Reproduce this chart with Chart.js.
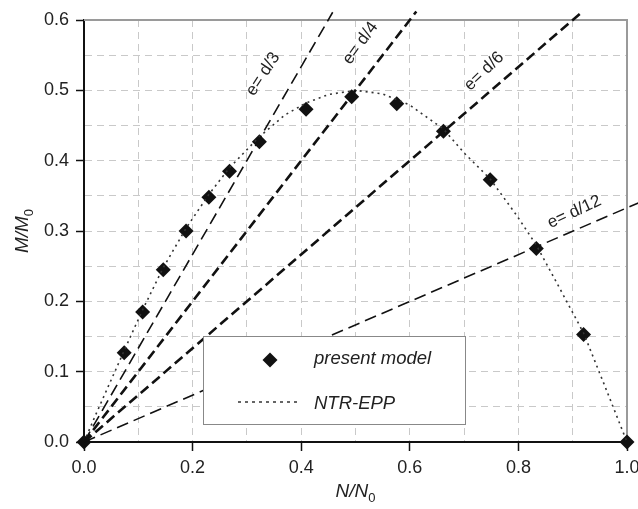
<!DOCTYPE html>
<html><head><meta charset="utf-8">
<script src="https://cdn.jsdelivr.net/npm/chart.js@4/dist/chart.umd.min.js"></script>
<style>html,body{margin:0;padding:0;background:#fff}#wrap{width:638px;height:509px}</style>
</head><body><div id="wrap"><canvas id="c" width="638" height="509"></canvas></div>
<script>
// present model points (N/N0, M/M0)
const modelN = [0, 0.074, 0.108, 0.146, 0.188, 0.230, 0.268, 0.323, 0.409, 0.493, 0.576, 0.662, 0.748, 0.833, 0.920, 1.0];
const modelM = [0, 0.127, 0.185, 0.245, 0.300, 0.348, 0.385, 0.427, 0.473, 0.491, 0.481, 0.442, 0.373, 0.275, 0.153, 0];
// NTR-EPP curve
const eppN = [0, 0.02, 0.074, 0.108, 0.146, 0.188, 0.230, 0.268, 0.323, 0.370, 0.409, 0.450, 0.500, 0.550, 0.600, 0.662, 0.700, 0.748, 0.797, 0.833, 0.875, 0.920, 0.960, 1.0];
const eppM = [0, 0.036, 0.130, 0.188, 0.248, 0.304, 0.352, 0.390, 0.434, 0.465, 0.482, 0.494, 0.500, 0.495, 0.479, 0.445, 0.411, 0.374, 0.322, 0.280, 0.220, 0.155, 0.078, 0];
// eccentricity load lines (from origin to end point)
const eccLabels = ['e= d/3', 'e= d/4', 'e= d/6', 'e= d/12'];
const eccEndN = [0.458, 0.612, 0.918, 1.03];
const eccEndM = [0.611, 0.612, 0.612, 0.343];
const eccLabelN = [0.330, 0.509, 0.737, 0.903];
const eccLabelM = [0.523, 0.567, 0.527, 0.327];
const eccLabelAngle = [-57, -54, -44, -25];
const xTickLabels = ['0.0', '0.2', '0.4', '0.6', '0.8', '1.0'];
const yTickLabels = ['0.0', '0.1', '0.2', '0.3', '0.4', '0.5', '0.6'];
const legendNames = ['present model', 'NTR-EPP'];

const FONT = "'Liberation Sans', Arial, Helvetica, sans-serif";
const thick = [false, true, true, false];

const datasets = [];
for (let i = 0; i < eccEndN.length; i++) {
  datasets.push({
    type: 'line',
    data: [{x: 0, y: 0}, {x: eccEndN[i], y: eccEndM[i]}],
    borderColor: '#111',
    borderWidth: thick[i] ? 2.6 : 1.6,
    borderDash: thick[i] ? [10, 5] : [12, 6],
    pointRadius: 0,
    clip: false,
    fill: false
  });
}
datasets.push({
  type: 'line',
  data: eppN.map((n, i) => ({x: n, y: eppM[i]})),
  borderColor: '#333',
  borderWidth: 1.6,
  borderDash: [2, 4],
  pointRadius: 0,
  clip: false,
  fill: false
});
datasets.push({
  type: 'scatter',
  data: modelN.map((n, i) => ({x: n, y: modelM[i]})),
  pointStyle: 'rectRot',
  pointRadius: 7.5,
  backgroundColor: '#111',
  borderColor: '#111',
  borderWidth: 0,
  clip: false
});

const isMult = (v, step) => Math.abs(v / step - Math.round(v / step)) < 1e-6;

const annot = {
  id: 'annot',
  beforeDatasetsDraw(chart) {
    const {ctx, chartArea: a} = chart;
    ctx.save();
    ctx.strokeStyle = '#9a9a9a';
    ctx.lineWidth = 2;
    ctx.beginPath();
    ctx.moveTo(a.left, a.top);
    ctx.lineTo(a.right, a.top);
    ctx.lineTo(a.right, a.bottom);
    ctx.stroke();
    ctx.restore();
  },
  afterDatasetsDraw(chart) {
    const {ctx} = chart;
    const xs = chart.scales.x, ys = chart.scales.y;
    ctx.save();
    ctx.fillStyle = '#222';
    ctx.font = '17px ' + FONT;
    ctx.textAlign = 'center';
    ctx.textBaseline = 'middle';
    for (let i = 0; i < eccLabels.length; i++) {
      const px = xs.getPixelForValue(eccLabelN[i]);
      const py = ys.getPixelForValue(eccLabelM[i]);
      ctx.save();
      ctx.translate(px, py);
      ctx.rotate(eccLabelAngle[i] * Math.PI / 180);
      ctx.fillText(eccLabels[i], 0, 0);
      ctx.restore();
    }
    // legend box
    const bx = 203.5, by = 336.5, bw = 262, bh = 88;
    ctx.fillStyle = '#fff';
    ctx.fillRect(bx, by, bw, bh);
    ctx.strokeStyle = '#888';
    ctx.lineWidth = 1;
    ctx.strokeRect(bx, by, bw, bh);
    // diamond
    ctx.fillStyle = '#111';
    ctx.beginPath();
    ctx.moveTo(270, 352.5); ctx.lineTo(277.5, 360); ctx.lineTo(270, 367.5); ctx.lineTo(262.5, 360);
    ctx.closePath();
    ctx.fill();
    // dotted sample
    ctx.strokeStyle = '#333';
    ctx.lineWidth = 1.5;
    ctx.setLineDash([3, 4]);
    ctx.beginPath();
    ctx.moveTo(238, 402); ctx.lineTo(300, 402);
    ctx.stroke();
    ctx.setLineDash([]);
    ctx.fillStyle = '#222';
    ctx.font = 'italic 18.5px ' + FONT;
    ctx.textAlign = 'left';
    ctx.textBaseline = 'alphabetic';
    ctx.fillText(legendNames[0], 314, 364);
    ctx.fillText(legendNames[1], 314, 409);
    ctx.restore();
  },
  afterDraw(chart) {
    const {ctx} = chart;
    ctx.save();
    ctx.fillStyle = '#222';
    ctx.textBaseline = 'alphabetic';
    ctx.textAlign = 'left';
    const main = 'italic 19px ' + FONT, sub = '13px ' + FONT;
    // x title N/N0
    ctx.font = main;
    let w1 = ctx.measureText('N/N').width;
    ctx.font = sub;
    let w2 = ctx.measureText('0').width;
    let sx = 355.5 - (w1 + w2) / 2;
    ctx.font = main;
    ctx.fillText('N/N', sx, 497);
    ctx.font = sub;
    ctx.fillText('0', sx + w1, 502);
    // y title M/M0
    ctx.translate(28, 231);
    ctx.rotate(-Math.PI / 2);
    ctx.font = main;
    w1 = ctx.measureText('M/M').width;
    ctx.font = sub;
    w2 = ctx.measureText('0').width;
    sx = -(w1 + w2) / 2;
    ctx.font = main;
    ctx.fillText('M/M', sx, 0);
    ctx.font = sub;
    ctx.fillText('0', sx + w1, 5);
    ctx.restore();
  }
};

new Chart(document.getElementById('c'), {
  type: 'scatter',
  data: {datasets},
  options: {
    responsive: false,
    animation: false,
    devicePixelRatio: 1,
    layout: {padding: {top: 20, right: 11, left: 0, bottom: 0}},
    plugins: {legend: {display: false}, tooltip: {enabled: false}},
    scales: {
      x: {
        type: 'linear', min: 0, max: 1,
        afterFit(s) { s.height = 67; s.paddingLeft = 0; s.paddingRight = 0; },
        ticks: {
          stepSize: 0.1, autoSkip: false, maxRotation: 0,
          padding: 6,
          color: '#222',
          font: {family: FONT, size: 18},
          callback: v => isMult(v, 0.2) ? xTickLabels[Math.round(v / 0.2)] : ''
        },
        grid: {
          color: c => (c.tick && (isMult(c.tick.value, 1) )) ? 'rgba(0,0,0,0)' : '#c9c9c9',
          lineWidth: 1,
          tickLength: 9,
          tickWidth: 1.5,
          tickBorderDash: [],
          tickColor: c => (c.tick && isMult(c.tick.value, 0.2)) ? '#111' : 'rgba(0,0,0,0)'
        },
        border: {display: true, color: '#111', width: 2, dash: [7, 5]}
      },
      y: {
        type: 'linear', min: 0, max: 0.6,
        afterFit(s) { s.width = 84; s.paddingTop = 0; s.paddingBottom = 0; },
        ticks: {
          stepSize: 0.05, autoSkip: false,
          padding: 7,
          color: '#222',
          font: {family: FONT, size: 18},
          callback: v => isMult(v, 0.1) ? yTickLabels[Math.round(v / 0.1)] : ''
        },
        grid: {
          color: c => (c.tick && (c.tick.value === 0 || Math.abs(c.tick.value - 0.6) < 1e-6)) ? 'rgba(0,0,0,0)' : '#c9c9c9',
          lineWidth: 1,
          tickLength: 8,
          tickWidth: 1.5,
          tickBorderDash: [],
          tickColor: c => (c.tick && isMult(c.tick.value, 0.1)) ? '#111' : 'rgba(0,0,0,0)'
        },
        border: {display: true, color: '#111', width: 2, dash: [7, 5]}
      }
    }
  },
  plugins: [annot]
});
</script>
</body></html>
